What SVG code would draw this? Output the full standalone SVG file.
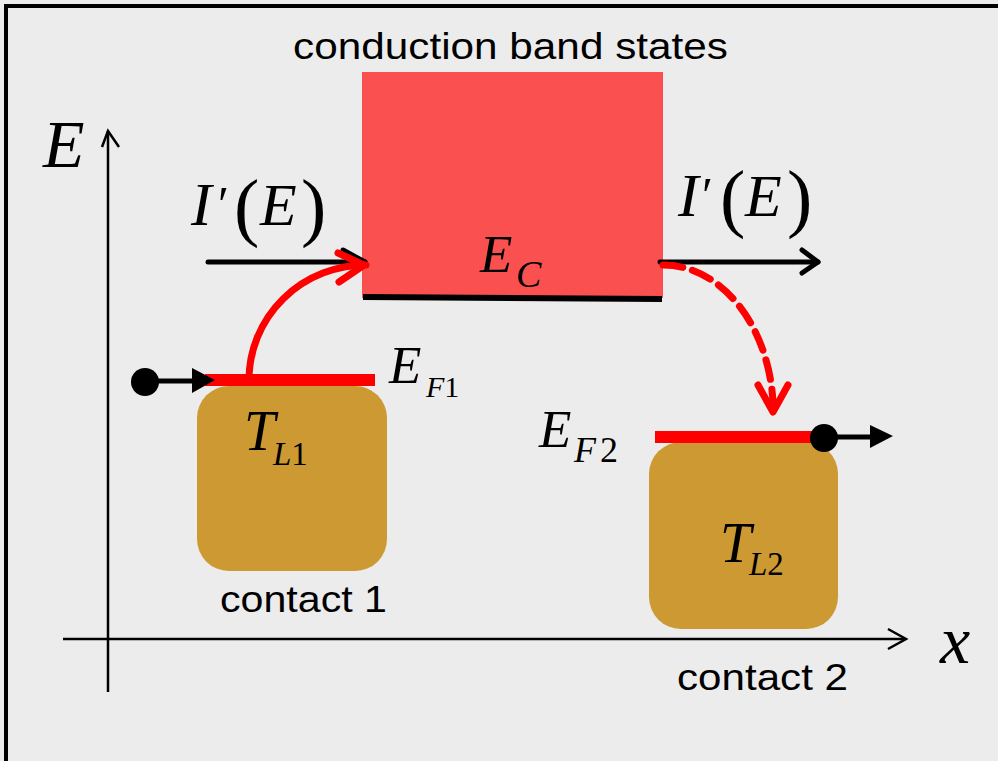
<svg xmlns="http://www.w3.org/2000/svg" width="998" height="761" viewBox="0 0 998 761">
<defs>
<style>
.sans{font-family:"Liberation Sans",Arial,sans-serif;font-size:37px;fill:#000}
.m{font-family:"Liberation Serif","Times New Roman",serif;font-style:italic;fill:#000}
.u{font-family:"Liberation Serif","Times New Roman",serif;font-style:normal;fill:#000}
.contact{fill:#cc9933}
.ef{stroke:#ff0000;stroke-width:12;fill:none}
.blk{stroke:#000;stroke-width:5;fill:none;stroke-linecap:round;stroke-linejoin:round}
.axis{stroke:#000;stroke-width:2.5;fill:none}
.red{stroke:#ff0000;stroke-width:7;fill:none;stroke-linecap:round;stroke-linejoin:round}
</style>
</defs>
<rect x="0" y="0" width="998" height="761" fill="#ececec"/>
<rect x="6" y="6" width="1010" height="780" fill="none" stroke="#000" stroke-width="4"/>

<g id="axes">
<line class="axis" x1="108" y1="692" x2="108" y2="131"/>
<polyline class="axis" points="102,147 108,131 119,147"/>
<line class="axis" x1="63" y1="639" x2="906" y2="639"/>
<polyline class="axis" points="888,629 906,639 888,649"/>
<text class="m" x="43" y="167" font-size="68">E</text>
<text class="m" x="940" y="663" font-size="68">x</text>
</g>

<g id="band">
<rect x="362" y="72" width="301" height="226" fill="#fa5050"/>
<line x1="363" y1="297" x2="662" y2="299" stroke="#000" stroke-width="6"/>
<text class="sans" x="293" y="59" textLength="435" lengthAdjust="spacingAndGlyphs">conduction band states</text>
<text class="m" x="480" y="272" font-size="53">E</text>
<text class="m" x="516" y="287" font-size="38">C</text>
</g>

<g id="contact1">
<rect class="contact" x="197" y="386" width="190" height="185" rx="32"/>
<line class="ef" x1="205" y1="380" x2="375" y2="380"/>
<text class="m" x="244" y="450" font-size="56">T</text>
<text class="m" x="273" y="465" font-size="33">L<tspan class="u">1</tspan></text>
<text class="m" x="389" y="383" font-size="53">E</text>
<text class="m" x="426" y="397" font-size="30">F<tspan class="u">1</tspan></text>
<text class="sans" x="220" y="612" textLength="167" lengthAdjust="spacingAndGlyphs">contact 1</text>
</g>

<g id="contact2">
<rect class="contact" x="649" y="442" width="189" height="187" rx="32"/>
<line class="ef" x1="655" y1="437" x2="825" y2="437"/>
<text class="m" x="720" y="562" font-size="56">T</text>
<text class="m" x="749" y="575" font-size="33">L<tspan class="u">2</tspan></text>
<text class="m" x="539" y="447" font-size="53">E</text>
<text class="m" x="574" y="462" font-size="36">F<tspan class="u" dx="4">2</tspan></text>
<text class="sans" x="677" y="690" textLength="171" lengthAdjust="spacingAndGlyphs">contact 2</text>
</g>

<g id="labels">
<text class="m" x="191" y="225" font-size="62">I</text>
<text class="u" x="218" y="221" font-size="50">′</text>
<text class="u" x="234" y="232" font-size="76">(</text>
<text class="m" x="260" y="225" font-size="60">E</text>
<text class="u" x="301" y="232" font-size="76">)</text>
<text class="m" x="678" y="216" font-size="62">I</text>
<text class="u" x="702" y="212" font-size="50">′</text>
<text class="u" x="720" y="223" font-size="76">(</text>
<text class="m" x="745" y="216" font-size="60">E</text>
<text class="u" x="787" y="223" font-size="76">)</text>
</g>

<g id="connectors">
<line class="blk" x1="208" y1="262" x2="365" y2="262"/>
<polyline class="blk" points="343,250 365,262"/>
<line class="blk" x1="660" y1="262" x2="818" y2="262"/>
<polyline class="blk" points="802,250 818,262 802,273"/>
<path class="red" d="M 249 380 A 117 115 0 0 1 366 265"/>
<polyline class="red" points="338,253 364,265 339,282"/>
<path class="red" d="M 663 265 A 110 148 0 0 1 773 402" stroke-linecap="butt" stroke-dasharray="20 10"/>
<polyline class="red" points="758,385 773,412 788,385"/>
<circle cx="145" cy="382" r="14" fill="#000"/>
<line x1="145" y1="381" x2="196" y2="381" stroke="#000" stroke-width="5"/>
<polygon points="192,368 215,380 192,393" fill="#000"/>
<circle cx="824" cy="438" r="14" fill="#000"/>
<line x1="824" y1="437" x2="872" y2="437" stroke="#000" stroke-width="5"/>
<polygon points="870,425 893,436 870,448" fill="#000"/>
</g>
</svg>
